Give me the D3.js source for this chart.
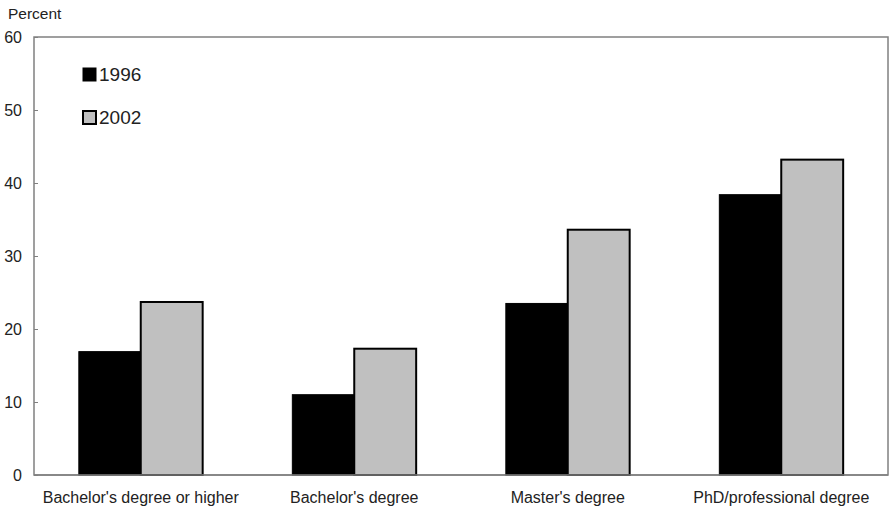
<!DOCTYPE html>
<html><head><meta charset="utf-8">
<script src="https://cdn.jsdelivr.net/npm/d3@7"></script>
<style>body{margin:0;background:#fff}svg{display:block;font-family:"Liberation Sans",Arial,sans-serif}</style>
</head><body><svg id="c" width="892" height="510"></svg>
<script>
const categories = ["Bachelor's degree or higher","Bachelor's degree","Master's degree","PhD/professional degree"];
const series = ["1996","2002"];
const values1996 = [16.9, 11.0, 23.5, 38.4];
const values2002 = [23.7, 17.3, 33.6, 43.2];
const yTicks = [0,10,20,30,40,50,60];
const colors = {"1996":"#000000","2002":"#c0c0c0"};

const svg = d3.select("#c");
const L=34, R=888, T=37, B=475;
const x = d3.scaleBand().domain(categories).range([L,R]).paddingInner(0.42).paddingOuter(0.21);
const xs = d3.scaleBand().domain(series).range([0,x.bandwidth()]);
const y = d3.scaleLinear().domain([0,60]).range([B,T]);

// frame
svg.append("rect").attr("x",L).attr("y",T).attr("width",R-L).attr("height",B-T)
  .attr("fill","none").attr("stroke","#808080").attr("stroke-width",1.5);

// y axis
const ya = svg.append("g").attr("transform",`translate(${L},0)`)
  .call(d3.axisRight(y).tickValues(yTicks).tickSize(4).tickFormat(d3.format("d")));
ya.select(".domain").remove();
ya.selectAll(".tick line").attr("stroke","#808080");
ya.selectAll(".tick text").attr("x",-12).attr("text-anchor","end").attr("font-size",16).attr("fill","#222").attr("font-family","Liberation Sans, Arial, sans-serif");

svg.append("text").attr("x",8).attr("y",19).text("Percent").attr("font-size",15.5).attr("fill","#222");

// bars
const data = categories.map((c,i)=>({c, v:{"1996":values1996[i],"2002":values2002[i]}}));
const g = svg.append("g");
data.forEach(d=>{
  series.forEach(s=>{
    g.append("rect")
      .attr("x",x(d.c)+xs(s)).attr("width",xs.bandwidth())
      .attr("y",y(d.v[s])).attr("height",y(0)-y(d.v[s]))
      .attr("fill",colors[s])
      .attr("stroke","#000").attr("stroke-width",s==="2002"?2:1);
  });
});
// baseline
svg.append("line").attr("x1",L).attr("x2",R).attr("y1",B).attr("y2",B).attr("stroke","#808080").attr("stroke-width",1.5);

// x axis labels
const xa = svg.append("g").attr("transform",`translate(0,${B})`).call(d3.axisBottom(x).tickSize(0));
xa.select(".domain").remove();
xa.selectAll(".tick text").attr("y",28).attr("dy",0).attr("font-size",16).attr("fill","#222").attr("font-family","Liberation Sans, Arial, sans-serif");

// legend
const lg = svg.append("g");
series.forEach((s,i)=>{
  const yy = 68 + i*43;
  lg.append("rect").attr("x",83).attr("y",yy).attr("width",13).attr("height",13)
    .attr("fill",colors[s]).attr("stroke","#000").attr("stroke-width",s==="2002"?2:1);
  lg.append("text").attr("x",99).attr("y",yy+13).text(s).attr("font-size",19).attr("fill","#222");
});
</script></body></html>
